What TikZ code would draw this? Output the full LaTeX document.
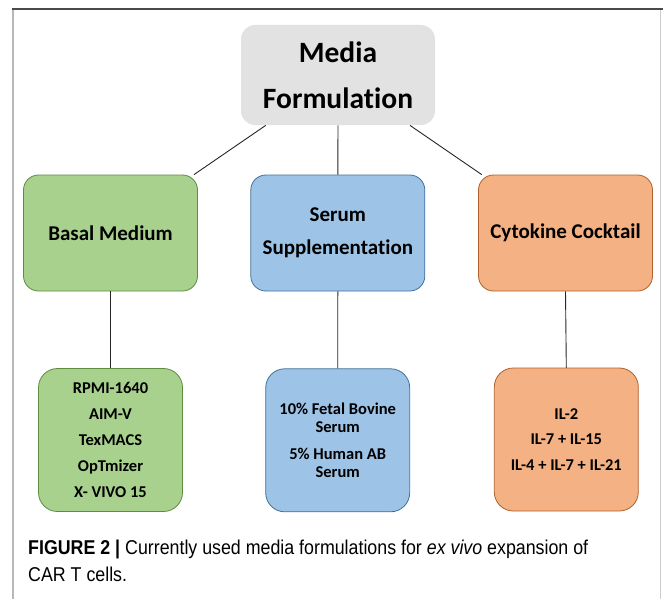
\documentclass[tikz,border=0pt]{standalone}
\usepackage{fontspec}
\setmainfont[RawFeature=-liga]{Carlito}
\newfontfamily\capfont[FakeStretch=0.89]{Liberation Sans}
\definecolor{topgray}{HTML}{E2E2E2}
\definecolor{gfill}{HTML}{A9D18E}
\definecolor{gdraw}{HTML}{5E8C40}
\definecolor{bfill}{HTML}{9DC3E6}
\definecolor{bdraw}{HTML}{41719C}
\definecolor{ofill}{HTML}{F4B183}
\definecolor{odraw}{HTML}{B0602A}
\definecolor{framedark}{HTML}{4A4A4A}
\definecolor{framelight}{HTML}{B8B8B8}
\tikzset{
  box/.style={rectangle, rounded corners=15pt, inner sep=0pt, align=center, font=\bfseries, line width=0.8pt},
  catbox/.style={box, minimum width=174pt, minimum height=116pt},
  listbox/.style={box, minimum width=144pt, minimum height=143pt, rounded corners=19pt},
  greenbox/.style={fill=gfill, draw=gdraw},
  bluebox/.style={fill=bfill, draw=bdraw},
  orangebox/.style={fill=ofill, draw=odraw},
  conn/.style={draw=black!85, line width=0.9pt},
  captext/.style={anchor=base west, inner sep=0pt, font=\capfont\fontsize{20}{27}\selectfont}
}
\begin{document}
\begin{tikzpicture}[x=1pt, y=-1pt]
\useasboundingbox (0,0) rectangle (663,599);
% frame
\draw[framelight, line width=2pt] (12.5,9) -- (12.5,599);
\draw[framelight!70, line width=1pt] (660,9) -- (660,599);
\draw[framedark, line width=1.5pt] (12,9) -- (663,9);
% nodes
\node[box, fill=topgray, minimum width=194pt, minimum height=100pt, rounded corners=14pt,
      font=\bfseries\fontsize{29.5}{46}\selectfont] (top) at (338,75) {Media\\Formulation};
\node[catbox, greenbox, font=\bfseries\fontsize{21}{32.6}\selectfont] (basal) at (110.5,233) {Basal Medium};
\node[catbox, bluebox, font=\bfseries\fontsize{21}{32.6}\selectfont] (serum) at (337.8,233) {Serum\\Supplementation};
\node[catbox, orangebox, font=\bfseries\fontsize{21}{32.6}\selectfont] (cyto) at (565.5,233) {Cytokine Cocktail};
\node[listbox, greenbox, font=\bfseries\fontsize{16.5}{25.8}\selectfont] (glist) at (110.5,440) {RPMI-1640\\AIM-V\\TexMACS\\OpTmizer\\X- VIVO 15};
\node[listbox, bluebox, font=\bfseries\fontsize{16.5}{18.4}\selectfont] (blist) at (337.7,440.3) {10\% Fetal Bovine\\Serum\\[8.2pt]5\% Human AB\\Serum};
\node[listbox, orangebox, font=\bfseries\fontsize{16.5}{25.8}\selectfont] (olist) at (566.3,439.5) {IL-2\\IL-7 + IL-15\\IL-4 + IL-7 + IL-21};
% connectors
\draw[conn] ([xshift=-72.3pt]top.south) -- ([xshift=83.5pt]basal.north);
\draw[conn] (top.south) -- (serum.north);
\draw[conn] ([xshift=72pt]top.south) -- ([xshift=-83.8pt]cyto.north);
\draw[conn] (basal.south) -- (glist.north);
\draw[conn] (serum.south) -- (blist.north);
\draw[conn] (cyto.south) -- (olist.north);
% caption
\node[captext] (cap1) at (28,554) {\textbf{FIGURE 2 |} Currently used media formulations for \textit{ex vivo} expansion of};
\node[captext] (cap2) at (28,581) {CAR T cells.};
\end{tikzpicture}
\end{document}
